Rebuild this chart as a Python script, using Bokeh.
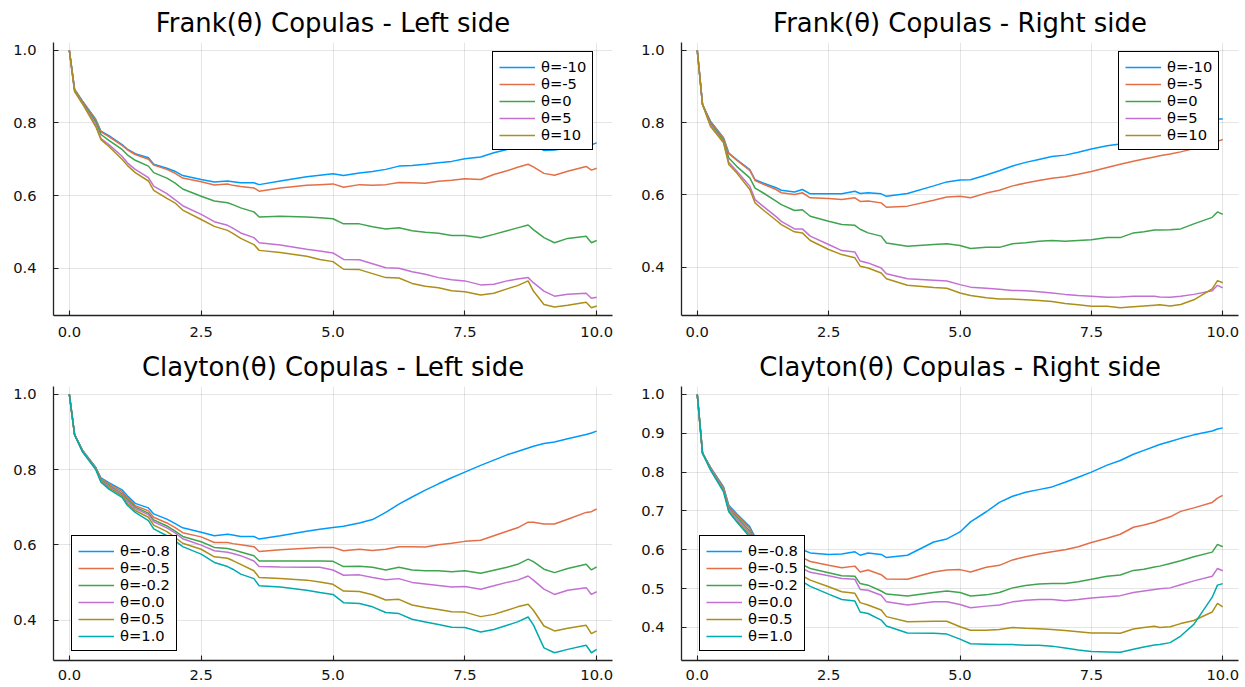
from bokeh.plotting import figure
from bokeh.models import Legend, LegendItem, Range1d, PrintfTickFormatter
from bokeh.layouts import column, row
from bokeh.embed import file_html
from bokeh.resources import INLINE

# ---------------- data ----------------
X = [0, 0.1, 0.25, 0.5, 0.6, 0.75, 1.0, 1.1, 1.25, 1.5, 1.6, 1.85, 2.0, 2.15, 2.5,
     2.75, 3.0, 3.1, 3.25, 3.5, 3.6, 4.0, 4.5, 4.75, 5.0, 5.2, 5.5, 5.75, 6.0, 6.25,
     6.5, 6.75, 7.0, 7.25, 7.5, 7.8, 8.05, 8.3, 8.5, 8.7, 8.8, 9.0, 9.2, 9.45, 9.8,
     9.9, 10.0]

FRANK_LABELS = ["θ=-10", "θ=-5", "θ=0", "θ=5", "θ=10"]
CLAYTON_LABELS = ["θ=-0.8", "θ=-0.5", "θ=-0.2", "θ=0.0", "θ=0.5", "θ=1.0"]

# Frank - Left side
FL_M10 = [1.0, 0.892, 0.86, 0.81, 0.777, 0.765, 0.74, 0.728, 0.715, 0.704, 0.686, 0.675, 0.667, 0.655, 0.644,
          0.637, 0.64, 0.638, 0.635, 0.635, 0.63, 0.64, 0.652, 0.656, 0.66, 0.655, 0.662, 0.666, 0.672, 0.681,
          0.683, 0.686, 0.69, 0.694, 0.701, 0.706, 0.718, 0.727, 0.735, 0.745, 0.74, 0.724, 0.725, 0.731, 0.738,
          0.74, 0.745]
FL_M5 = [1.0, 0.892, 0.86, 0.808, 0.775, 0.762, 0.738, 0.726, 0.713, 0.70, 0.684, 0.672, 0.662, 0.648, 0.638,
         0.629, 0.632, 0.628, 0.625, 0.621, 0.612, 0.621, 0.628, 0.630, 0.632, 0.623, 0.630, 0.628, 0.630, 0.636,
         0.635, 0.634, 0.639, 0.642, 0.646, 0.644, 0.658, 0.668, 0.678, 0.686, 0.679, 0.661, 0.656, 0.667, 0.68,
         0.67, 0.675]
FL_0 = [1.0, 0.89, 0.858, 0.803, 0.768, 0.752, 0.727, 0.712, 0.697, 0.681, 0.663, 0.648, 0.635, 0.618, 0.598,
        0.585, 0.58, 0.575, 0.566, 0.555, 0.541, 0.543, 0.541, 0.539, 0.536, 0.522, 0.522, 0.514, 0.508, 0.511,
        0.503, 0.499, 0.496, 0.49, 0.49, 0.484, 0.493, 0.503, 0.511, 0.519, 0.506, 0.484, 0.47, 0.482, 0.488,
        0.47, 0.476]
FL_5 = [1.0, 0.888, 0.855, 0.795, 0.757, 0.74, 0.708, 0.69, 0.672, 0.649, 0.626, 0.605, 0.589, 0.572, 0.548,
        0.528, 0.518, 0.51, 0.497, 0.484, 0.47, 0.464, 0.452, 0.447, 0.442, 0.424, 0.423, 0.412, 0.401, 0.40,
        0.39, 0.383, 0.374, 0.368, 0.365, 0.354, 0.356, 0.365, 0.37, 0.374, 0.36, 0.337, 0.323, 0.328, 0.331,
        0.317, 0.32]
FL_10 = [1.0, 0.886, 0.852, 0.79, 0.754, 0.735, 0.70, 0.683, 0.663, 0.64, 0.614, 0.592, 0.58, 0.56, 0.534,
         0.515, 0.504, 0.496, 0.482, 0.465, 0.449, 0.443, 0.433, 0.424, 0.418, 0.397, 0.396, 0.385, 0.374, 0.373,
         0.358, 0.35, 0.346, 0.338, 0.335, 0.326, 0.331, 0.343, 0.352, 0.365, 0.337, 0.30, 0.293, 0.298, 0.306,
         0.291, 0.296]

# Frank - Right side
FR_M10 = [1.0, 0.85, 0.804, 0.758, 0.716, 0.698, 0.67, 0.642, 0.633, 0.62, 0.613, 0.608, 0.615, 0.603, 0.603,
          0.603, 0.61, 0.604, 0.606, 0.603, 0.596, 0.604, 0.625, 0.636, 0.641, 0.642, 0.655, 0.667, 0.68, 0.69,
          0.698, 0.706, 0.71, 0.718, 0.727, 0.736, 0.741, 0.75, 0.758, 0.768, 0.772, 0.78, 0.787, 0.795, 0.805,
          0.81, 0.81]
FR_M5 = [1.0, 0.85, 0.803, 0.756, 0.714, 0.696, 0.668, 0.64, 0.63, 0.615, 0.606, 0.601, 0.606, 0.592, 0.59,
         0.587, 0.592, 0.582, 0.583, 0.578, 0.566, 0.569, 0.585, 0.594, 0.596, 0.592, 0.605, 0.613, 0.625, 0.633,
         0.64, 0.646, 0.65, 0.657, 0.665, 0.676, 0.685, 0.693, 0.699, 0.705, 0.708, 0.713, 0.719, 0.728, 0.742,
         0.748, 0.753]
FR_0 = [1.0, 0.85, 0.80, 0.75, 0.702, 0.679, 0.647, 0.619, 0.606, 0.583, 0.573, 0.557, 0.559, 0.541, 0.527,
        0.518, 0.516, 0.505, 0.495, 0.486, 0.467, 0.458, 0.463, 0.465, 0.46, 0.452, 0.455, 0.455, 0.465, 0.468,
        0.472, 0.474, 0.472, 0.474, 0.476, 0.482, 0.482, 0.495, 0.498, 0.503, 0.503, 0.504, 0.506, 0.52, 0.538,
        0.553, 0.546]
FR_5 = [1.0, 0.85, 0.795, 0.746, 0.69, 0.666, 0.624, 0.587, 0.569, 0.54, 0.527, 0.506, 0.506, 0.486, 0.463,
        0.446, 0.442, 0.417, 0.412, 0.398, 0.382, 0.368, 0.364, 0.362, 0.352, 0.345, 0.342, 0.339, 0.336, 0.335,
        0.332, 0.329, 0.325, 0.322, 0.32, 0.317, 0.318, 0.32, 0.32, 0.32, 0.318, 0.317, 0.32, 0.325, 0.335,
        0.35, 0.343]
FR_10 = [1.0, 0.85, 0.79, 0.744, 0.684, 0.661, 0.615, 0.578, 0.559, 0.53, 0.518, 0.498, 0.495, 0.474, 0.449,
         0.435, 0.426, 0.403, 0.398, 0.384, 0.368, 0.35, 0.344, 0.342, 0.329, 0.322, 0.316, 0.312, 0.312, 0.31,
         0.308, 0.305, 0.30, 0.296, 0.292, 0.292, 0.288, 0.291, 0.293, 0.295, 0.296, 0.293, 0.297, 0.31, 0.34,
         0.363, 0.357]

# Clayton - Left side
CL_M08 = [1.0, 0.893, 0.851, 0.806, 0.778, 0.765, 0.746, 0.73, 0.71, 0.698, 0.682, 0.668, 0.657, 0.645, 0.633,
          0.624, 0.628, 0.626, 0.622, 0.622, 0.615, 0.624, 0.636, 0.641, 0.646, 0.649, 0.658, 0.667, 0.686, 0.708,
          0.727, 0.745, 0.762, 0.778, 0.793, 0.811, 0.825, 0.839, 0.848, 0.857, 0.862, 0.869, 0.873, 0.882, 0.893,
          0.897, 0.902]
CL_M05 = [1.0, 0.893, 0.85, 0.805, 0.775, 0.762, 0.741, 0.725, 0.704, 0.69, 0.673, 0.658, 0.646, 0.632, 0.621,
          0.606, 0.606, 0.603, 0.60, 0.595, 0.582, 0.587, 0.591, 0.593, 0.593, 0.584, 0.588, 0.585, 0.588, 0.595,
          0.595, 0.594, 0.60, 0.604, 0.609, 0.612, 0.624, 0.636, 0.645, 0.66, 0.66, 0.655, 0.655, 0.668, 0.686,
          0.688, 0.695]
CL_M02 = [1.0, 0.893, 0.85, 0.804, 0.772, 0.758, 0.736, 0.72, 0.70, 0.684, 0.666, 0.65, 0.637, 0.622, 0.608,
          0.593, 0.59, 0.587, 0.581, 0.571, 0.557, 0.557, 0.557, 0.557, 0.556, 0.542, 0.543, 0.54, 0.533, 0.54,
          0.533, 0.531, 0.531, 0.528, 0.531, 0.524, 0.532, 0.54, 0.548, 0.562, 0.555, 0.535, 0.526, 0.537, 0.548,
          0.533, 0.541]
CL_00 = [1.0, 0.893, 0.849, 0.803, 0.77, 0.755, 0.733, 0.716, 0.696, 0.68, 0.661, 0.645, 0.632, 0.616, 0.599,
         0.584, 0.58, 0.577, 0.571, 0.557, 0.542, 0.541, 0.54, 0.54, 0.533, 0.519, 0.52, 0.513, 0.507, 0.51,
         0.50, 0.496, 0.492, 0.488, 0.489, 0.482, 0.491, 0.50, 0.506, 0.517, 0.506, 0.482, 0.468, 0.479, 0.486,
         0.468, 0.475]
CL_05 = [1.0, 0.892, 0.848, 0.802, 0.768, 0.752, 0.73, 0.71, 0.691, 0.673, 0.652, 0.635, 0.62, 0.604, 0.588,
         0.568, 0.564, 0.558, 0.548, 0.531, 0.513, 0.51, 0.506, 0.501, 0.495, 0.477, 0.476, 0.467, 0.453, 0.455,
         0.44, 0.433, 0.428, 0.422, 0.421, 0.409, 0.415, 0.426, 0.435, 0.442, 0.426, 0.384, 0.371, 0.378, 0.386,
         0.364, 0.371]
CL_10 = [1.0, 0.892, 0.847, 0.80, 0.766, 0.748, 0.726, 0.705, 0.686, 0.664, 0.642, 0.624, 0.611, 0.595, 0.575,
         0.553, 0.542, 0.535, 0.522, 0.51, 0.491, 0.488, 0.479, 0.473, 0.468, 0.446, 0.444, 0.435, 0.42, 0.417,
         0.402, 0.395, 0.388, 0.381, 0.38, 0.368, 0.375, 0.386, 0.395, 0.408, 0.387, 0.326, 0.313, 0.322, 0.333,
         0.313, 0.322]

# Clayton - Right side
CR_M08 = [1.0, 0.849, 0.813, 0.762, 0.715, 0.693, 0.659, 0.633, 0.628, 0.615, 0.61, 0.603, 0.60, 0.592, 0.588,
          0.589, 0.595, 0.586, 0.592, 0.588, 0.58, 0.586, 0.62, 0.628, 0.646, 0.672, 0.698, 0.722, 0.738, 0.748,
          0.755, 0.762, 0.774, 0.787, 0.80, 0.818, 0.83, 0.846, 0.856, 0.866, 0.871, 0.879, 0.887, 0.896, 0.906,
          0.911, 0.914]
CR_M05 = [1.0, 0.849, 0.812, 0.76, 0.712, 0.69, 0.654, 0.627, 0.618, 0.60, 0.594, 0.585, 0.58, 0.57, 0.56,
          0.554, 0.558, 0.543, 0.548, 0.536, 0.525, 0.524, 0.543, 0.548, 0.549, 0.543, 0.555, 0.56, 0.574, 0.582,
          0.589, 0.595, 0.60, 0.608, 0.619, 0.63, 0.64, 0.658, 0.664, 0.671, 0.676, 0.685, 0.699, 0.708, 0.722,
          0.733, 0.74]
CR_M02 = [1.0, 0.849, 0.811, 0.758, 0.708, 0.685, 0.648, 0.62, 0.61, 0.59, 0.582, 0.57, 0.562, 0.552, 0.541,
          0.533, 0.532, 0.513, 0.509, 0.494, 0.486, 0.481, 0.49, 0.494, 0.49, 0.481, 0.484, 0.49, 0.502, 0.508,
          0.512, 0.513, 0.513, 0.518, 0.524, 0.532, 0.535, 0.547, 0.55, 0.556, 0.558, 0.565, 0.572, 0.582, 0.594,
          0.614, 0.608]
CR_00 = [1.0, 0.849, 0.81, 0.756, 0.705, 0.68, 0.643, 0.615, 0.602, 0.582, 0.574, 0.56, 0.552, 0.542, 0.533,
         0.526, 0.524, 0.498, 0.496, 0.483, 0.466, 0.458, 0.466, 0.466, 0.459, 0.451, 0.455, 0.458, 0.466, 0.47,
         0.472, 0.472, 0.469, 0.472, 0.476, 0.479, 0.482, 0.49, 0.494, 0.498, 0.50, 0.502, 0.51, 0.52, 0.532,
         0.552, 0.546]
CR_05 = [1.0, 0.849, 0.808, 0.753, 0.70, 0.675, 0.638, 0.607, 0.592, 0.568, 0.558, 0.54, 0.533, 0.522, 0.505,
         0.492, 0.488, 0.464, 0.458, 0.445, 0.428, 0.415, 0.416, 0.416, 0.402, 0.393, 0.393, 0.395, 0.40, 0.398,
         0.397, 0.395, 0.392, 0.389, 0.386, 0.386, 0.385, 0.396, 0.40, 0.403, 0.40, 0.402, 0.41, 0.418, 0.44,
         0.462, 0.453]
CR_10 = [1.0, 0.849, 0.806, 0.749, 0.698, 0.672, 0.633, 0.60, 0.582, 0.556, 0.545, 0.525, 0.518, 0.506, 0.486,
         0.472, 0.468, 0.44, 0.436, 0.419, 0.404, 0.386, 0.385, 0.383, 0.37, 0.358, 0.357, 0.356, 0.356, 0.354,
         0.354, 0.352, 0.347, 0.342, 0.338, 0.337, 0.336, 0.344, 0.35, 0.355, 0.356, 0.361, 0.378, 0.408, 0.478,
         0.509, 0.513]

X_TICKS = [0, 2.5, 5, 7.5, 10]
Y_TICKS_A = [0.4, 0.6, 0.8, 1.0]
Y_TICKS_B = [0.4, 0.5, 0.6, 0.7, 0.8, 0.9, 1.0]

COLORS = ["#009AFA", "#E36F47", "#3EA44E", "#C271D2", "#AC8E18", "#00AAAE"]
FONT = "DejaVu Sans"


def panel(title, series, labels, yr, yticks, width, height, mb, legend_loc, x_standoff):
    p = figure(width=width, height=height, output_backend="svg", toolbar_location=None,
               x_range=Range1d(-0.3, 10.3), y_range=Range1d(*yr),
               min_border_left=mb[0], min_border_right=mb[1],
               min_border_top=mb[2], min_border_bottom=mb[3])
    p.outline_line_color = None
    p.background_fill_color = "white"
    p.border_fill_color = "white"

    p.title.text = title
    p.title.text_font = FONT
    p.title.text_font_size = "25.9px"
    p.title.text_font_style = "normal"
    p.title.text_color = "#000000"
    p.title.align = "center"
    p.title.standoff = 9

    p.xaxis.ticker = X_TICKS
    p.yaxis.ticker = yticks
    p.xaxis.formatter = PrintfTickFormatter(format="%.1f")
    p.yaxis.formatter = PrintfTickFormatter(format="%.1f")
    for ax in (p.xaxis, p.yaxis):
        ax.axis_line_color = "#222222"
        ax.axis_line_width = 1.3
        ax.major_tick_line_color = "#222222"
        ax.major_tick_line_width = 1.1
        ax.major_tick_in = 5
        ax.major_tick_out = 0
        ax.minor_tick_line_color = None
        ax.major_label_text_font = FONT
        ax.major_label_text_font_size = "14.7px"
        ax.major_label_text_color = "#111111"
    p.yaxis.major_label_standoff = 17
    p.xaxis.major_label_standoff = x_standoff

    p.xgrid.grid_line_color = "#000000"
    p.xgrid.grid_line_alpha = 0.1
    p.ygrid.grid_line_color = "#000000"
    p.ygrid.grid_line_alpha = 0.1

    items = []
    for i, (ys, lab) in enumerate(zip(series, labels)):
        r = p.line(X, ys, line_color=COLORS[i], line_width=1.5)
        items.append(LegendItem(label=lab, renderers=[r]))

    leg = Legend(items=items, location=legend_loc, margin=0, padding=6, spacing=0,
                 glyph_width=36, glyph_height=16, label_height=16, label_standoff=6,
                 label_text_font=FONT, label_text_font_size="14.7px",
                 label_text_color="#000000",
                 border_line_color="#000000", border_line_width=1.2, border_line_alpha=1.0,
                 background_fill_color="white", background_fill_alpha=1.0)
    p.add_layout(leg)
    return p


W1, W2 = 636, 609
HT, HB = 344, 343

p1 = panel("Frank(θ) Copulas - Left side", [FL_M10, FL_M5, FL_0, FL_5, FL_10], FRANK_LABELS,
           (0.2697, 1.0213), Y_TICKS_A, W1, HT, (53, 24, 42, 29), (439, 165), 11)
p2 = panel("Frank(θ) Copulas - Right side", [FR_M10, FR_M5, FR_0, FR_5, FR_10], FRANK_LABELS,
           (0.2666, 1.0214), Y_TICKS_A, W2, HT, (45, 7, 42, 29), (437, 165), 11)
p3 = panel("Clayton(θ) Copulas - Left side", [CL_M08, CL_M05, CL_M02, CL_00, CL_05, CL_10], CLAYTON_LABELS,
           (0.2924, 1.0206), Y_TICKS_A, W1, HB, (53, 24, 42, 27), (18, 9), 9)
p4 = panel("Clayton(θ) Copulas - Right side", [CR_M08, CR_M05, CR_M02, CR_00, CR_05, CR_10], CLAYTON_LABELS,
           (0.315, 1.0205), Y_TICKS_B, W2, HB, (45, 7, 42, 27), (18, 9), 9)

layout = column(row(p1, p2), row(p3, p4))
open("out.html", "w").write(file_html(layout, INLINE))
